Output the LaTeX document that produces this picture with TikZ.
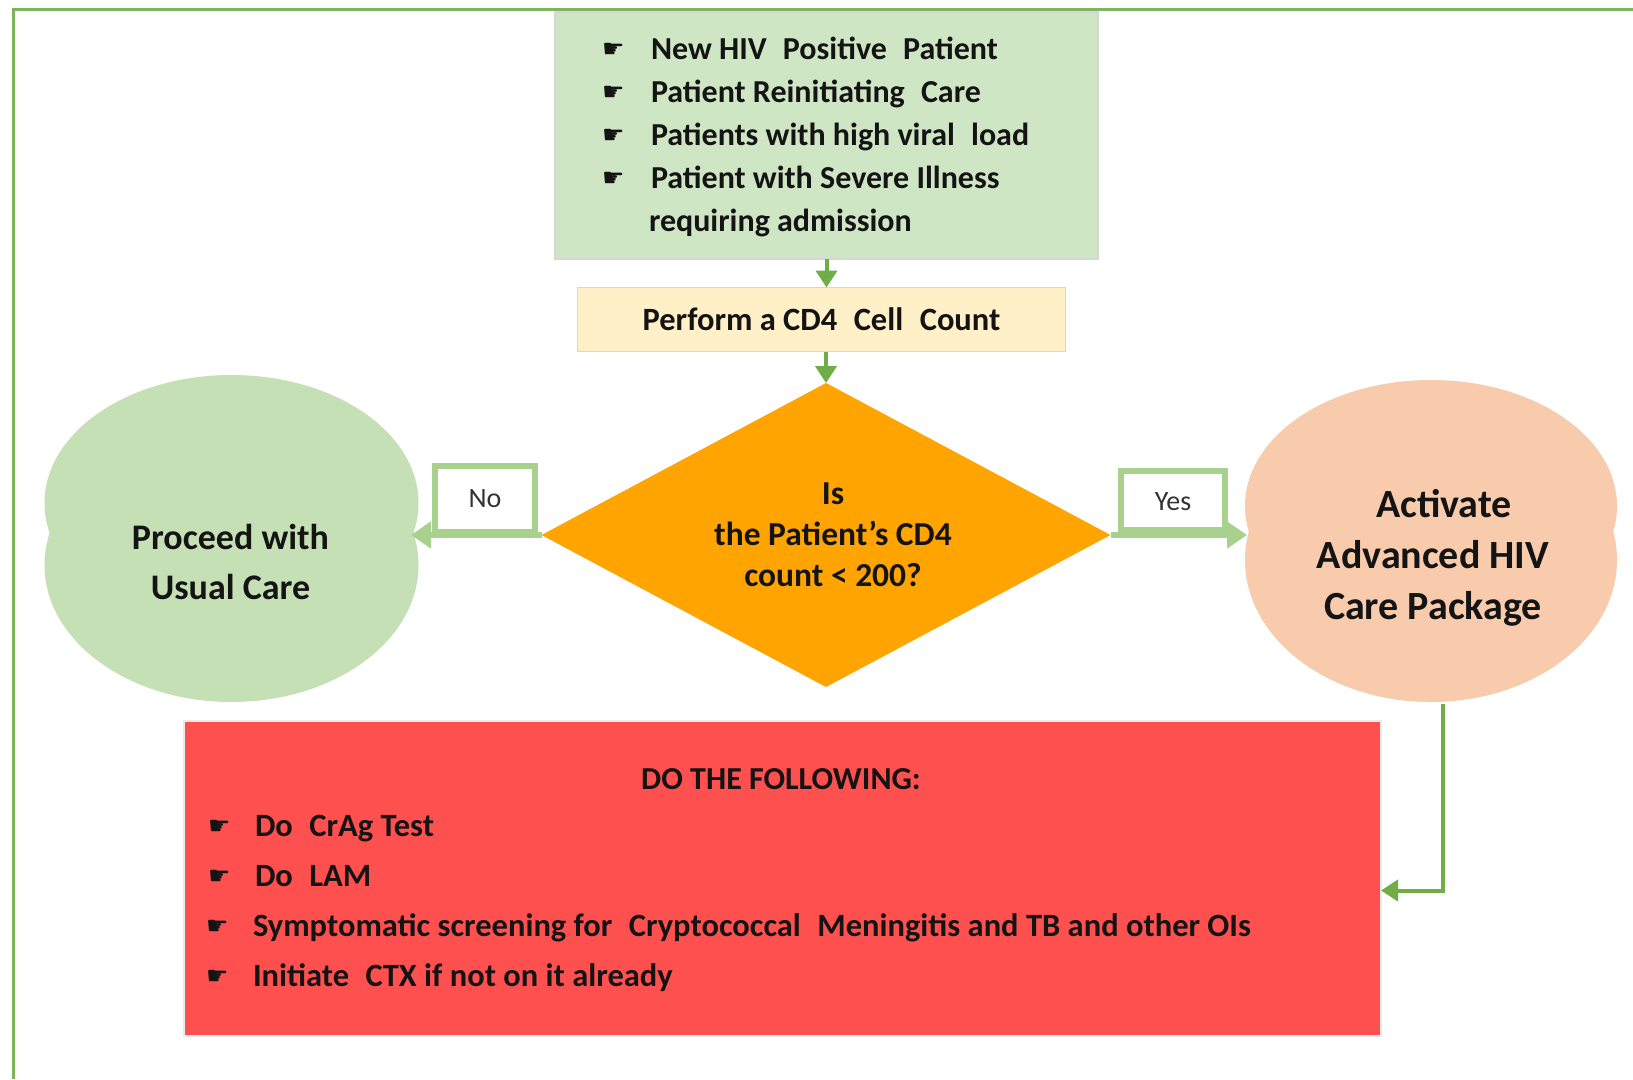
\documentclass[tikz,border=0pt]{standalone}
\usepackage{fontspec}
\setmainfont{Carlito}
\newfontfamily\handfont{DejaVu Sans}
\usetikzlibrary{arrows.meta,shapes.geometric}
\definecolor{dkgreen}{HTML}{70AD47}
\definecolor{ltgreen}{HTML}{A9D18E}
\definecolor{topfill}{HTML}{CFE6C5}
\definecolor{cloudgreen}{HTML}{C5E0B4}
\definecolor{peach}{HTML}{F8CBAD}
\definecolor{cdfill}{HTML}{FFF0C8}
\definecolor{cdborder}{HTML}{F5D48C}
\definecolor{orangefill}{HTML}{FFA400}
\definecolor{redfill}{HTML}{FF5050}
\definecolor{ink}{HTML}{141414}
\newcommand{\hand}{\raisebox{2pt}{\handfont\fontsize{25}{25}\selectfont ☛}}
\newcommand{\tbul}{\makebox[49pt][l]{\hand}}
\newcommand{\rbul}{\makebox[47pt][l]{\hand}}
\newcommand{\xsp}{\hspace{0.28em}}
\begin{document}
\begin{tikzpicture}[x=1pt,y=-1pt,
  every node/.style={inner sep=0pt, outer sep=0pt, text=ink},
  tline/.style={anchor=base west, font=\bfseries\fontsize{32}{32}\selectfont},
  rline/.style={anchor=base west, font=\bfseries\fontsize{32.5}{32.5}\selectfont},
  garrow/.style={draw=dkgreen, line width=4pt, -{Triangle[length=17pt,width=21pt]}},
  larrow/.style={draw=ltgreen, line width=6pt, -{Triangle[length=20pt,width=26pt]}},
  lab/.style={draw=ltgreen, line width=6pt, fill=white, font=\fontsize{28}{28}\selectfont, text=black!80},
]
\useasboundingbox (0,0) rectangle (1633,1079);
\fill[white] (0,0) rectangle (1633,1079);
\draw[dkgreen!90, line width=3pt] (13,1079) -- (13,9) -- (1633,9);

% top box
\node[draw=black!16, line width=1.5pt, fill=topfill, minimum width=543pt, minimum height=247pt] (tb) at (826.5,135.5) {};
\node[tline] (t1) at (602,59) {\tbul New HIV\xsp{} Positive\xsp{} Patient};
\node[tline] (t2) at (602,102) {\tbul Patient Reinitiating\xsp{} Care};
\node[tline] (t3) at (602,145) {\tbul Patients with high viral\xsp{} load};
\node[tline] (t4) at (602,188) {\tbul Patient with Severe Illness};
\node[tline] (t5) at (649,231) {requiring admission};

% CD4 box
\node[draw=cdborder, line width=1.5pt, fill=cdfill, minimum width=488pt, minimum height=64pt,
  font=\bfseries\fontsize{32.5}{32.5}\selectfont] (cd) at (821.5,319.5) {Perform a CD4\xsp{} Cell\xsp{} Count};

% decision
\node[diamond, aspect=1.87, fill=orangefill, minimum width=569pt, minimum height=304pt,
  align=center, font=\bfseries\fontsize{33.5}{41}\selectfont] (dm) at (826,535) {\hspace*{14pt}Is\\\hspace*{14pt}the Patient’s CD4\\\hspace*{14pt}count < 200?};

% left cloud
\fill[cloudgreen] (231.5,503) ellipse (187pt and 128pt);
\fill[cloudgreen] (231.5,565) ellipse (187pt and 137pt);
\node[minimum width=361pt, minimum height=300pt, align=center,
  font=\bfseries\fontsize{36}{50}\selectfont] (lc) at (230.5,562) {Proceed with\\Usual Care};

% right cloud
\fill[peach] (1431,506) ellipse (186pt and 126pt);
\fill[peach] (1431,560) ellipse (186pt and 142pt);
\node[minimum width=372pt, minimum height=292pt, align=center,
  font=\bfseries\fontsize{40}{51}\selectfont] (rc) at (1433,558) {\hspace*{22pt}Activate\\Advanced HIV\\Care Package};

% red box
\node[draw=black!8, line width=1.5pt, fill=redfill, minimum width=1197pt, minimum height=315pt] (rb) at (782.5,878.5) {};
\node[anchor=base, font=\bfseries\fontsize{32}{32}\selectfont] (rh) at (781,789) {DO THE FOLLOWING:};
\node[rline] (r1) at (208,836) {\rbul Do\xsp{} CrAg Test};
\node[rline] (r2) at (208,886) {\rbul Do\xsp{} LAM};
\node[rline] (r3) at (206,936) {\rbul Symptomatic screening for\xsp{} Cryptococcal\xsp{} Meningitis and TB and other OIs};
\node[rline] (r4) at (206,986) {\rbul Initiate\xsp{} CTX if not on it already};

% labels
\node[lab, minimum width=100pt, minimum height=66pt] (nolab) at (485,499) {No};
\node[lab, minimum width=104pt, minimum height=59pt, text depth=2pt] (yeslab) at (1173,500) {\raisebox{-5pt}{Yes}};

% connectors
\draw[garrow] (tb.south) -- (tb.south |- cd.north);
\draw[garrow] (dm.north |- cd.south) -- (dm.north);
\draw[larrow] (dm.west) -- (dm.west -| lc.east);
\draw[larrow] (dm.east) -- (dm.east -| rc.west);
\draw[garrow] ([xshift=10pt]rc.south) |- ([yshift=-12pt]rb.east);
\end{tikzpicture}
\end{document}
